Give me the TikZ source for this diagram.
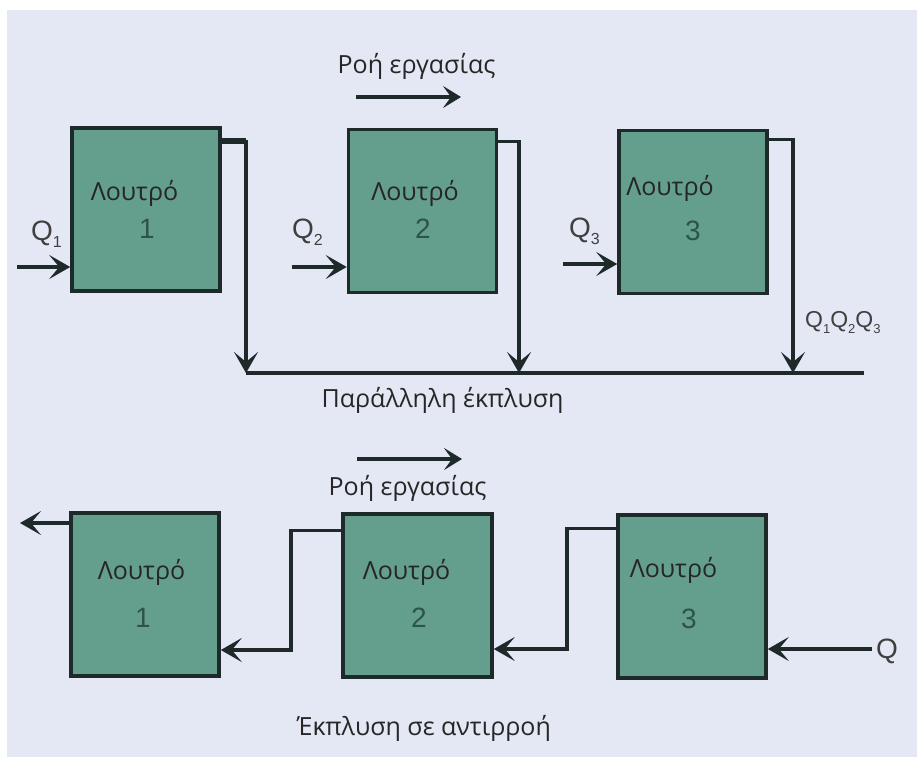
\documentclass[tikz,border=0pt]{standalone}
\usepackage{fontspec}
\setmainfont{Open Sans}
\newfontfamily\arialfont{Liberation Sans}
\usetikzlibrary{arrows.meta}

\definecolor{panel}{HTML}{E4E8F4}
\definecolor{bathgreen}{HTML}{649F8D}
\definecolor{edge}{HTML}{1E2A2A}
\definecolor{digit}{HTML}{2C5448}

\tikzset{
  bath/.style={draw=edge, fill=bathgreen, line width=3.6pt, minimum width=148pt,
    minimum height=163pt, inner sep=0pt},
  pipe/.style={draw=edge, line width=3.2pt},
  flow/.style={pipe, -{Stealth[length=21pt,width=24pt,inset=10pt]}},
  word/.style={font=\fontsize{25}{25}\selectfont, text=black!85, anchor=base, inner sep=0pt},
  num/.style={font=\arialfont\fontsize{28}{28}\selectfont, text=digit, anchor=base, inner sep=0pt},
  qlab/.style={font=\arialfont\fontsize{28}{28}\selectfont, text=black!75, anchor=base west,
    inner sep=0pt},
}
\newcommand{\qsub}[1]{Q\raisebox{-7pt}{\fontsize{16}{16}\selectfont #1}}
\newcommand{\qsubs}[1]{Q\raisebox{-6pt}{\fontsize{13}{13}\selectfont #1}}

\begin{document}
\begin{tikzpicture}[x=1pt,y=-1pt]
  \useasboundingbox (0,0) rectangle (917,760);
  \fill[white] (0,0) rectangle (917,760);
  \fill[panel] (7,10) rectangle (917,757);

  % parallel rinsing
  \node[bath] (b1) at (146,209.5) {};
  \node[bath] (b2) at (422.5,211) {};
  \node[bath] (b3) at (693,212) {};
  \node[word] (w1) at (134.5,200) {Λουτρό};
  \node[word] (w2) at (415,200) {Λουτρό};
  \node[word] (w3) at (670,195) {Λουτρό};
  \node[num] (n1) at (147,238) {1};
  \node[num] (n2) at (423,238) {2};
  \node[num] (n3) at (693,240) {3};

  \coordinate (d1) at (246,373);
  \coordinate (d2) at (519,373);
  \coordinate (d3) at (793,373);
  \coordinate (dend) at (864,373);
  \coordinate (s1) at ([yshift=-15pt]b1.north east);
  \coordinate (s2) at ([yshift=-14pt]b2.north east);
  \coordinate (s3) at ([yshift=-11pt]b3.north east);
  \draw[pipe] (d1) -- (dend);
  \draw[pipe, line width=5.5pt] (s1) -- (s1 -| d1);
  \draw[flow] (s1) -| (d1);
  \draw[flow] (s2) -| (d2);
  \draw[flow] (s3) -| (d3);

  \coordinate (i1) at (17,267);
  \coordinate (i2) at (292,267);
  \coordinate (i3) at (563,264);
  \draw[flow] (i1) -- (i1 -| b1.west);
  \draw[flow] (i2) -- (i2 -| b2.west);
  \draw[flow] (i3) -- (i3 -| b3.west);
  \node[qlab] (q1) at (31,240) {\qsub{1}};
  \node[qlab] (q2) at (292,238) {\qsub{2}};
  \node[qlab] (q3) at (569,237) {\qsub{3}};
  \node[qlab, font=\arialfont\fontsize{23}{23}\selectfont] (qall) at (805,327)
    {\qsubs{1}\qsubs{2}\qsubs{3}};

  \coordinate (fa) at (356,97);
  \coordinate (fb) at (461,97);
  \draw[flow, -{Stealth[length=18pt,width=22pt,inset=8pt]}] (fa) -- (fb);
  \node[word] (t1) at (416.5,74) {Ροή εργασίας};
  \node[word] (t2) at (442.5,407) {Παράλληλη έκπλυση};

  % counter-current rinsing
  \node[bath] (c1) at (145,594.5) {};
  \node[bath, minimum width=149pt] (c2) at (417.5,595.5) {};
  \node[bath] (c3) at (692,596.5) {};
  \node[word] (v1) at (141.5,579) {Λουτρό};
  \node[word] (v2) at (406.5,579) {Λουτρό};
  \node[word] (v3) at (673.5,577) {Λουτρό};
  \node[num] (m1) at (143,627) {1};
  \node[num] (m2) at (419,627) {2};
  \node[num] (m3) at (689,628) {3};

  \coordinate (out) at (20,523);
  \coordinate (k1) at (291,650);
  \coordinate (k2) at (567,649);
  \coordinate (qin) at (872,649);
  \draw[flow] (out -| c1.west) -- (out);
  \draw[flow] ([yshift=-18pt]c2.north west) -| (k1) -- (k1 -| c1.east);
  \draw[flow] ([yshift=-15pt]c3.north west) -| (k2) -- (k2 -| c2.east);
  \draw[flow] (qin) -- (qin -| c3.east);
  \node[qlab] (q) at (876,658) {Q};

  \coordinate (ga) at (357,459);
  \coordinate (gb) at (462,459);
  \draw[flow, -{Stealth[length=18pt,width=22pt,inset=8pt]}] (ga) -- (gb);
  \node[word] (t3) at (407.5,495) {Ροή εργασίας};
  \node[word] (t4) at (424,735) {Έκπλυση σε αντιρροή};
\end{tikzpicture}
\end{document}
